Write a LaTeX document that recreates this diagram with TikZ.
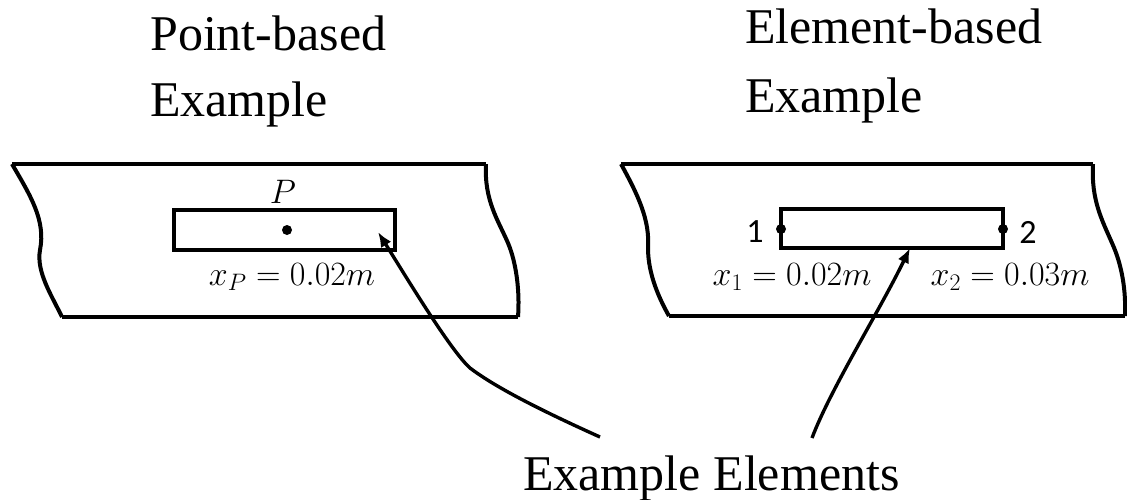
\RequirePackage{fix-cm}
\documentclass[tikz,border=0pt]{standalone}
\usepackage{fontspec}
\setmainfont{Liberation Serif}
\newfontfamily\numfont{Carlito}
\usetikzlibrary{arrows.meta}

\begin{document}
\begin{tikzpicture}[x=1pt,y=-1pt,
  titletext/.style={anchor=base west,inner sep=0pt,font=\fontsize{50}{60}\selectfont},
  mathlbl/.style={inner sep=0pt,font=\fontsize{34}{40}\selectfont},
  numlbl/.style={inner sep=0pt,font=\numfont\fontsize{34}{40}\selectfont},
  edge/.style={line width=4pt,line join=miter},
  pointer/.style={line width=3.4pt,-{Latex[length=15pt,width=12pt]}}]
\useasboundingbox (0,0) rectangle (1127,499);
% coordinates
\coordinate (LNW) at ( 12,164);%
\coordinate (LNE) at (486,164);%
\coordinate (LSE) at (518,317);%
\coordinate (LSW) at ( 62,317);%
\coordinate (RNW) at (621,164);%
\coordinate (RNE) at (1093,164);%
\coordinate (RSE) at (1125,316);%
\coordinate (RSW) at (669,316);%
\coordinate (PA)  at (174,210);%
\coordinate (PB)  at (395,250);%
\coordinate (EA)  at (781,209);%
\coordinate (EB)  at (1003,248);%
\coordinate (P)   at (287,230);%
\coordinate (N1)  at (781,229);%
\coordinate (N2)  at (1003,229);%
\coordinate (TP)  at (378,232);%
\coordinate (TE)  at (910,248);%
\coordinate (SP)  at (600,437);%
\coordinate (SE)  at (812,438);%
% titles
\node (ptitle) [titletext] at (150,50)  {Point-based};
\node (pex)    [titletext] at (150,116) {Example};
\node (etitle) [titletext] at (745,43)  {Element-based};
\node (eex)    [titletext] at (745,112) {Example};
\node (exel)   [titletext] at (523,490) {Example Elements};
% boundaries
\draw[edge] (LSW) -- (LSE);
\draw[edge] (LNW) -- (LNE);
\draw[edge] (LNW) .. controls (30,195) and (46,220) .. (40,250)
                  .. controls (36,272) and (52,296) .. (LSW);
\draw[edge] (LNE) .. controls (484,200) and (498,220) .. (508,243)
                  .. controls (516,262) and (520,290) .. (LSE);
\draw[edge] (RSW) -- (RSE);
\draw[edge] (RNW) -- (RNE);
\draw[edge] (RNW) .. controls (638,195) and (650,220) .. (648,248)
                  .. controls (648,275) and (660,300) .. (RSW);
\draw[edge] (RNE) .. controls (1091,200) and (1102,220) .. (1112,243)
                  .. controls (1122,265) and (1126,290) .. (RSE);
% elements
\draw[edge] (PA) rectangle (PB);
\draw[edge] (EA) rectangle (EB);
% nodes
\fill (P)  circle (5pt) node [mathlbl] at (283,192) {$P$};
\fill (N1) circle (5pt) node [numlbl]  at (755,232) {1};
\fill (N2) circle (5pt) node [numlbl]  at (1028,232) {2};
\node (xp) [mathlbl] at (292,277) {$x_P = 0.02m$};
\node (x1) [mathlbl] at (792,277) {$x_1 = 0.02m$};
\node (x2) [mathlbl] at (1010,277) {$x_2 = 0.03m$};
% arrows
\draw[pointer] (SP) .. controls (540,410) and (495,387) .. (470,368)
                    .. controls (450,350) and (405,275) .. (TP);
\draw[pointer] (SE) .. controls (830,390) and (880,310) .. (TE);
\end{tikzpicture}
\end{document}
